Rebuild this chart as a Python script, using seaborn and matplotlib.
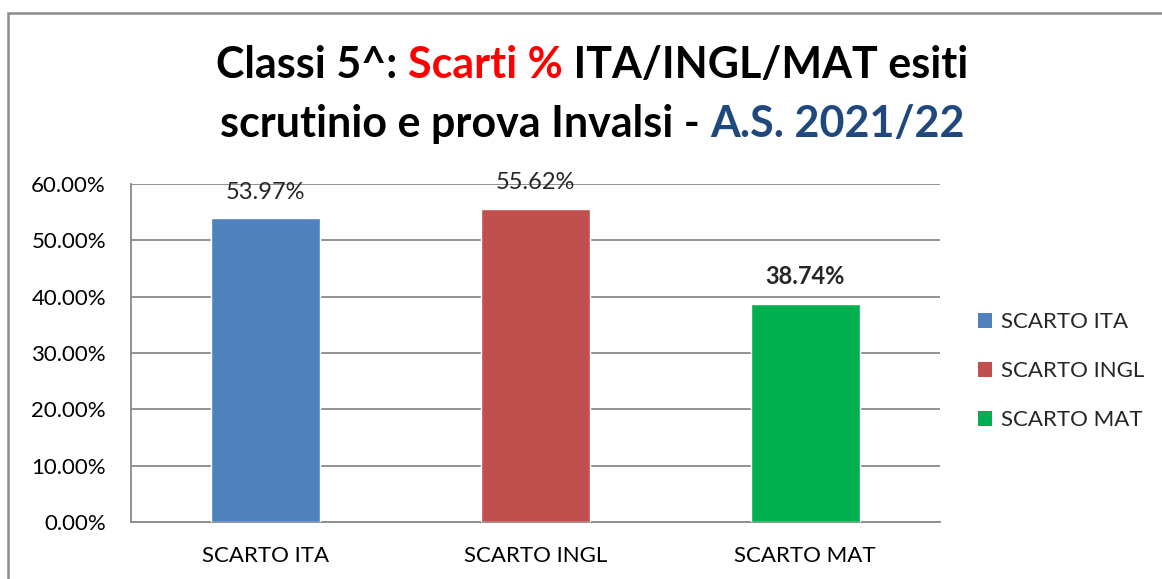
import matplotlib
matplotlib.use('Agg')
import matplotlib.pyplot as plt
import seaborn as sns
import pandas as pd
from matplotlib.patches import Patch, Rectangle
from matplotlib.ticker import FixedLocator, FuncFormatter


# ===================================
# Data
# ===================================
CATEGORIES = ['SCARTO ITA', 'SCARTO INGL', 'SCARTO MAT']
SCARTI     = [53.97, 55.62, 38.74]
COLORS     = ['#4F81BD', '#C0504D', '#00B050']
Y_TICKS    = [0, 10, 20, 30, 40, 50, 60]

TITLE_LINE1 = [('Classi 5^: ', 'black'), ('Scarti %', '#FF0000'),
               (' ITA/INGL/MAT esiti', 'black')]
TITLE_LINE2 = [('scrutinio e prova Invalsi - ', 'black'),
               ('A.S. 2021/22', '#1F497D')]

W, H = 1162, 579
GRID = '#898989'


def draw_title_line(fig, parts, y_px, size):
    # place coloured chunks one after another, then centre the whole line
    renderer = fig.canvas.get_renderer()
    texts, widths = [], []
    for s, c in parts:
        t = fig.text(0, 1 - y_px / H, s, color=c, fontsize=size,
                     fontweight='bold', va='baseline', ha='left')
        widths.append(t.get_window_extent(renderer).width)
        texts.append(t)
    x = 592 - sum(widths) / 2
    for t, w in zip(texts, widths):
        t.set_x(x / W)
        x += w


sns.set_theme(style='white')
plt.rcParams['font.family'] = ['Lato', 'DejaVu Sans']

df = pd.DataFrame({'categoria': CATEGORIES, 'scarto': SCARTI})

fig = plt.figure(figsize=(W / 100, H / 100), dpi=100)
ax = fig.add_axes([131 / W, 1 - 522 / H, (940 - 131) / W, (522 - 184) / H])

sns.barplot(data=df, x='categoria', y='scarto', hue='categoria',
            palette=COLORS, saturation=1, width=0.404, legend=False,
            ax=ax, zorder=3)

ax.set_ylim(0, 60)
ax.yaxis.set_major_locator(FixedLocator(Y_TICKS))
ax.yaxis.set_major_formatter(FuncFormatter(lambda v, _: f'{v:.2f}%'))
ax.grid(axis='y', color=GRID, linewidth=1.3, zorder=0)
ax.set_xlabel('')
ax.set_ylabel('')
for side in ['top', 'right']:
    ax.spines[side].set_visible(False)
for side in ['left', 'bottom']:
    ax.spines[side].set_color(GRID)
    ax.spines[side].set_linewidth(1.3)
ax.tick_params(axis='y', length=0, pad=18, labelsize=16, colors='black')
ax.tick_params(axis='x', length=0, pad=17, labelsize=16, colors='black')

# value labels on top of bars (last one in bold, as in the source)
for i, (cat, val) in enumerate(zip(CATEGORIES, SCARTI)):
    ax.annotate(f'{val:.2f}%', xy=(i, val), xytext=(0, 11),
                textcoords='offset points', ha='center', va='bottom',
                fontsize=17, fontweight='bold' if i == 2 else 'normal')

handles = [Patch(facecolor=c, edgecolor='none') for c in COLORS]
fig.legend(handles, CATEGORIES, loc='center left',
           bbox_to_anchor=(978 / W, 1 - 371 / H), frameon=False,
           fontsize=16, handlelength=0.65, handleheight=0.65,
           handletextpad=0.4, labelspacing=1.3, borderaxespad=0,
           borderpad=0)

draw_title_line(fig, TITLE_LINE1, 78, 31)
draw_title_line(fig, TITLE_LINE2, 137, 31)

fig.add_artist(Rectangle((8 / W, -0.1), 1.2, 1 - 13 / H + 0.1,
                         transform=fig.transFigure, fill=False,
                         edgecolor='#8C8C8C', linewidth=1.8))

plt.savefig('out.png', dpi=100)
plt.close()
